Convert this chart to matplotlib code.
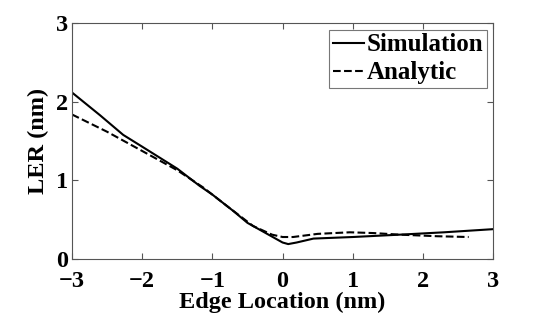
import matplotlib
matplotlib.use("Agg")
import matplotlib.pyplot as plt

sim_x = [-3.0, -2.6, -2.27, -2.0, -1.5, -1.18, -1.0, -0.7, -0.5, -0.2, 0.0, 0.08, 0.2, 0.44, 1.0, 1.67, 2.3, 3.0]
sim_y = [2.12, 1.83, 1.58, 1.43, 1.15, 0.93, 0.82, 0.61, 0.46, 0.31, 0.21, 0.19, 0.21, 0.26, 0.28, 0.31, 0.34, 0.38]
ana_x = [-3.0, -2.5, -2.03, -1.5, -1.13, -0.8, -0.42, -0.15, 0.0, 0.15, 0.5, 0.96, 1.3, 1.67, 2.2, 2.65]
ana_y = [1.84, 1.62, 1.39, 1.13, 0.91, 0.68, 0.42, 0.31, 0.28, 0.28, 0.32, 0.34, 0.33, 0.31, 0.29, 0.28]

plt.rcParams['font.family'] = ['Liberation Serif', 'DejaVu Serif']
plt.rcParams['font.weight'] = 'bold'

fig = plt.figure(figsize=(5.45, 3.13), dpi=100)
ax = fig.add_axes([0.132, 0.1725, 0.773, 0.753])
ax.plot(sim_x, sim_y, color='black', lw=1.5, ls='-', label='Simulation')
ax.plot(ana_x, ana_y, color='black', lw=1.5, ls='--', label='Analytic')
ax.set_xlim(-3, 3)
ax.set_ylim(0, 3)
ax.set_xticks([-3, -2, -1, 0, 1, 2, 3])
ax.set_yticks([0, 1, 2, 3])
ax.set_xticklabels(['\u22123', '\u22122', '\u22121', '0', '1', '2', '3'])
ax.tick_params(direction='in', top=True, right=True, labelsize=17.5, color='#555555', length=4)
ax.tick_params(axis='x', pad=8.5)
ax.tick_params(axis='y', pad=3)
for s in ax.spines.values():
    s.set_color('#555555')
    s.set_linewidth(0.8)
ax.set_xlabel('Edge Location (nm)', fontsize=17.5, fontweight='bold', labelpad=0)
ax.set_ylabel('LER (nm)', fontsize=17.5, fontweight='bold', labelpad=5)
leg = ax.legend(loc='upper right', fontsize=18, frameon=True, fancybox=False, handlelength=1.25,
                handletextpad=0.1, borderpad=0.15, borderaxespad=0.25, labelspacing=0.2)
leg.get_frame().set_edgecolor('#555555')
leg.get_frame().set_linewidth(0.8)
for t in leg.get_texts():
    t.set_fontweight('bold')
fig.savefig('out.png', dpi=100)
